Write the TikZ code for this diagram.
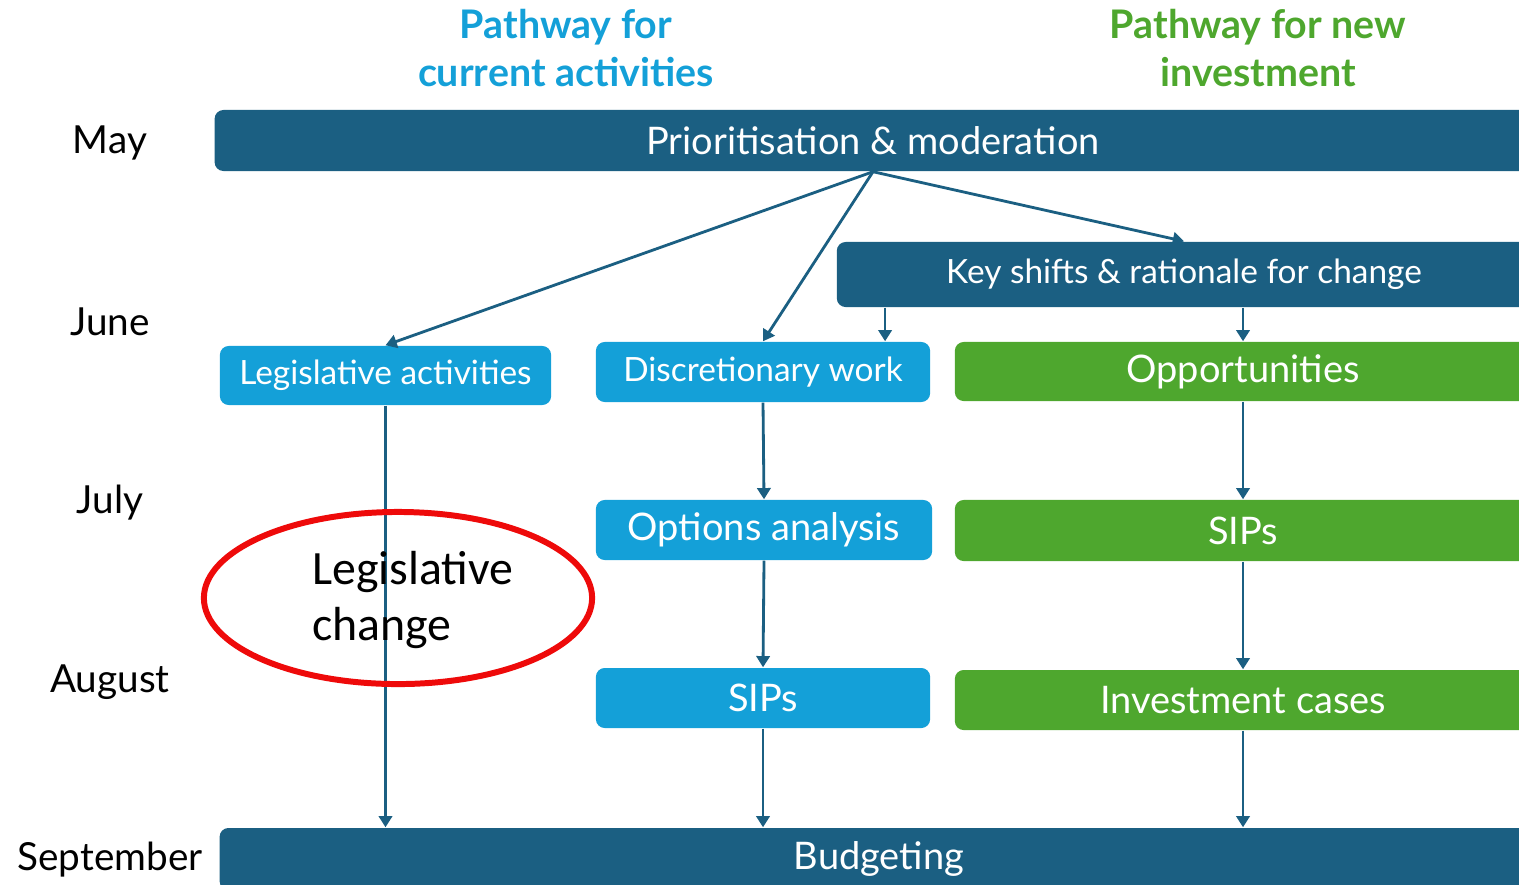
\documentclass[tikz,border=0pt]{standalone}
\usepackage{fontspec}
\setmainfont{Lato}
\newfontfamily\calibfont{Carlito}
\usetikzlibrary{arrows.meta}
\definecolor{navy}{HTML}{1B5F82}
\definecolor{skyblue}{HTML}{14A0D8}
\definecolor{leafgreen}{HTML}{4EA72E}
\definecolor{ringred}{HTML}{EE0A0A}

\begin{document}
\begin{tikzpicture}[x=0.01cm, y=-0.01cm,
        box/.style={rectangle, rounded corners=2.5pt, text=white, inner sep=0pt},
        bigtext/.style={font=\fontsize{10.8}{13}\selectfont},
        smalltext/.style={font=\fontsize{9.5}{12}\selectfont},
        navybox/.style={box, fill=navy},
        bluebox/.style={box, fill=skyblue},
        greenbox/.style={box, fill=leafgreen},
        month/.style={font=\fontsize{11}{13}\selectfont},
        heading/.style={font=\bfseries\fontsize{11.2}{13.4}\selectfont, align=center},
        arr/.style={navy, line width=0.8pt, -{Triangle[length=3.2pt, width=3.8pt]}}]
        \clip (0,0) rectangle (1519,884);
        \node[month] (m1) at (110,143) {May};
        \node[month] (m2) at (110,322) {June};
        \node[month] (m3) at (110,503) {July};
        \node[month] (m4) at (110,682) {August};
        \node[month] (m5) at (110,860) {September};
        \node[heading, text=skyblue]   (t1) at (566,48)  {Pathway for\\current activities};
        \node[heading, text=leafgreen] (t2) at (1258,48) {Pathway for new\\investment};
        \node[navybox, bigtext, minimum width=13.16cm, minimum height=0.61cm] (prio) at (873,140.5) {Prioritisation \& moderation};
        \node[navybox, smalltext, minimum width=6.94cm, minimum height=0.65cm] (keys) at (1184,274.5) {Key shifts \& rationale for change};
        \node[bluebox, smalltext, minimum width=3.31cm, minimum height=0.59cm] (legis) at (385.5,375.5) {Legislative activities};
        \node[bluebox, smalltext, minimum width=3.34cm, minimum height=0.60cm] (disc) at (763,372) {Discretionary work};
        \node[greenbox, bigtext, minimum width=5.76cm, minimum height=0.59cm] (opp) at (1243,371.5) {Opportunities};
        \node[bluebox, bigtext, minimum width=3.36cm, minimum height=0.60cm] (opt) at (764,530) {Options analysis};
        \node[greenbox, bigtext, minimum width=5.76cm, minimum height=0.61cm] (sipg) at (1243,530.5) {SIPs};
        \node[bluebox, bigtext, minimum width=3.34cm, minimum height=0.60cm] (sipb) at (763,698) {SIPs};
        \node[greenbox, bigtext, minimum width=5.76cm, minimum height=0.60cm] (inv) at (1243,700) {Investment cases};
        \node[navybox, bigtext, minimum width=13.18cm, minimum height=0.62cm] (budget) at (879,859) {Budgeting};
        \draw[arr] (prio.south) -- (legis.north);
        \draw[arr] (prio.south) -- (disc.north);
        \draw[arr] (prio.south) -- (keys.north);
        \coordinate (kd) at ([xshift=1.22cm]disc.north);
        \draw[arr] (keys.south -| kd) -- (kd);
        \draw[arr] (keys.south -| opp.north) -- (opp.north);
        \draw[arr] (legis.south) -- (budget.north -| legis.south);
        \draw[arr] (disc.south) -- (opt.north);
        \draw[arr] (opt.south) -- (sipb.north);
        \draw[arr] (sipb.south) -- (budget.north -| sipb.south);
        \draw[arr] (opp.south) -- (sipg.north);
        \draw[arr] (sipg.south) -- (inv.north);
        \draw[arr] (inv.south) -- (budget.north -| inv.south);
        \node[font=\calibfont\fontsize{13.6}{16.2}\selectfont, align=left] (lc) at (413,600) {Legislative\\change};
        \draw[ringred, line width=1.7pt] (398,598) ellipse [x radius=1.94cm, y radius=0.86cm];
\end{tikzpicture}
\end{document}
